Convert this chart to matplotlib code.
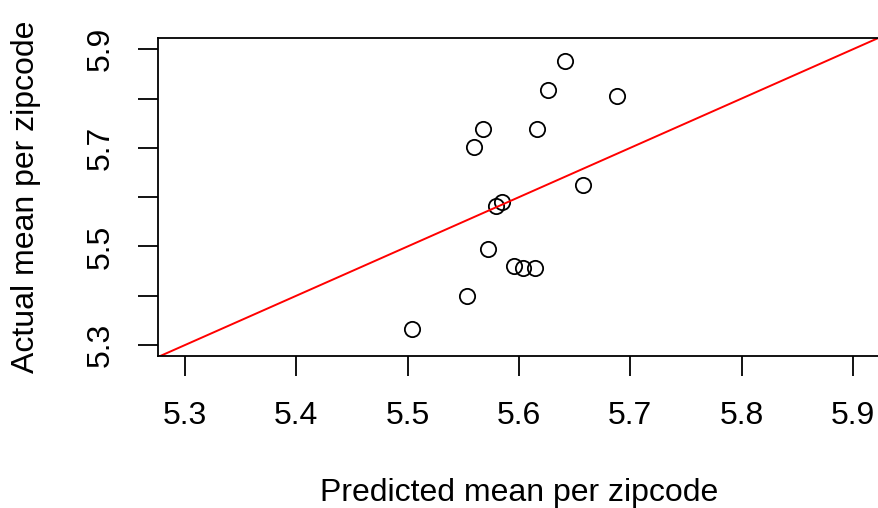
import matplotlib
matplotlib.use('Agg')
import matplotlib.pyplot as plt

# predicted vs actual mean per zipcode
predicted = [5.641, 5.626, 5.688, 5.568, 5.616, 5.560, 5.658, 5.579,
             5.585, 5.572, 5.596, 5.604, 5.614, 5.553, 5.504]
actual = [5.877, 5.818, 5.805, 5.739, 5.738, 5.702, 5.625, 5.583,
          5.591, 5.495, 5.460, 5.456, 5.457, 5.399, 5.332]

x_ticks = [5.3, 5.4, 5.5, 5.6, 5.7, 5.8, 5.9]
y_ticks = [5.3, 5.4, 5.5, 5.6, 5.7, 5.8, 5.9]
y_tick_labels = ['5.3', '', '5.5', '', '5.7', '', '5.9']

plt.rcParams['font.family'] = ['Liberation Sans', 'DejaVu Sans']

W, H = 879, 508
fig = plt.figure(figsize=(W / 100, H / 100), dpi=100)
left, right, top, bottom = 158, 879, 38.3, 356
ax = fig.add_axes([left / W, 1 - bottom / H, (right - left) / W, (bottom - top) / H])

ax.plot(predicted, actual, linestyle='none', marker='o', markersize=11,
        markerfacecolor='none', markeredgecolor='black', markeredgewidth=1.3)

xlim = (5.2757, 5.9235)
ylim = (5.2777, 5.9223)
ax.plot([5.0, 6.2], [5.0, 6.2], color='red', linewidth=1.4)
ax.set_xlim(xlim)
ax.set_ylim(ylim)

ax.spines['right'].set_visible(False)
for s in ['left', 'top', 'bottom']:
    ax.spines[s].set_linewidth(1.3)

ax.set_xticks(x_ticks)
ax.set_xticklabels([f'{v:.1f}' for v in x_ticks])
ax.set_yticks(y_ticks)
ax.set_yticklabels(y_tick_labels, rotation=90, va='center')
ax.tick_params(axis='both', length=14.4, width=1.3, labelsize=23)
ax.tick_params(axis='x', pad=18)
ax.tick_params(axis='y', pad=16)

fig.text(519 / W, 7.5 / H, 'Predicted mean per zipcode', ha='center',
         va='baseline', fontsize=23)
fig.text(26 / W, 1 - 197 / H, 'Actual mean per zipcode', ha='center',
         va='center', rotation=90, fontsize=23)

fig.savefig('out.png', dpi=100)
